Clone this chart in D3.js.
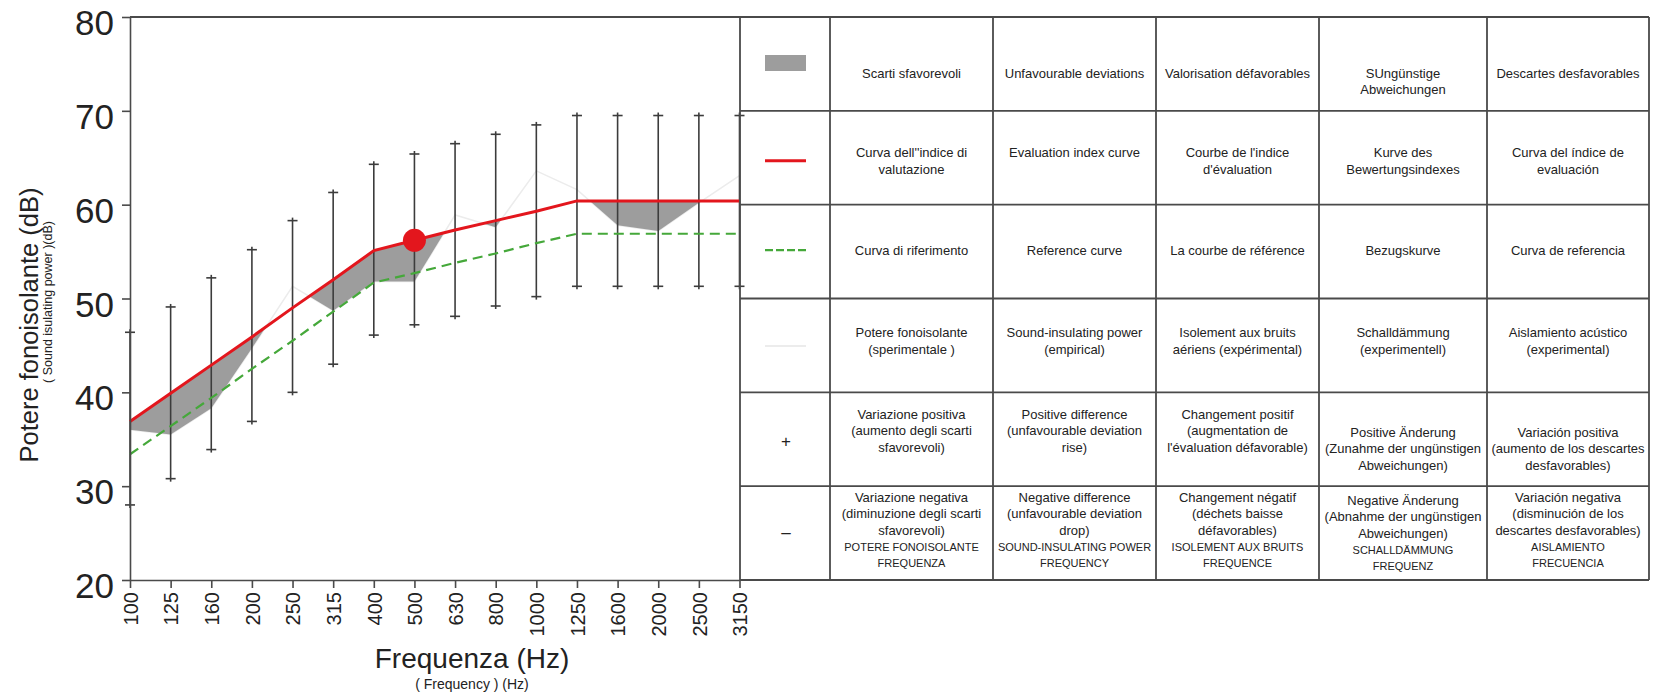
<!DOCTYPE html>
<html>
<head>
<meta charset="utf-8">
<script src="https://cdn.jsdelivr.net/npm/d3@7/dist/d3.min.js"></script>
<style>
  html, body { margin: 0; padding: 0; background: #fff; }
  svg { display: block; font-family: "Liberation Sans", Arial, sans-serif; }
</style>
</head>
<body>
<svg id="chart" width="1658" height="695"></svg>
<script>
// One-third-octave band centre frequencies (Hz)
const frequencies = ["100","125","160","200","250","315","400","500","630","800","1000","1250","1600","2000","2500","3150"];

// Evaluation index curve (shifted reference curve), dB
const evaluationCurve = [36.9,39.9,42.9,45.9,49.0,52.0,55.1,56.2,57.3,58.3,59.3,60.4,60.4,60.4,60.4,60.4];

// Reference curve, dB
const referenceCurve = [33.4,36.4,39.4,42.5,45.5,48.6,51.7,52.7,53.8,54.8,55.9,56.9,56.9,56.9,56.9,56.9];

// Measured sound-insulating power, dB
const measuredPower = [36.0,35.5,38.3,44.7,51.3,48.7,51.8,51.8,58.9,57.6,63.6,61.6,57.8,57.2,60.2,63.1];

// Range bars: positive / negative variation limits, dB
const variationLow  = [28.0,30.8,33.9,36.9,40.0,43.0,46.1,47.2,48.1,49.2,50.2,51.3,51.3,51.3,51.3,51.3];
const variationHigh = [46.4,49.1,52.2,55.2,58.3,61.3,64.3,65.4,66.5,67.5,68.5,69.5,69.5,69.5,69.5,69.5];

// Index value marked on the evaluation curve
const indexFrequency = "500";

// Y axis tick values, dB
const yTickValues = [20,30,40,50,60,70,80];

// Legend table: Italian, English, French, German, Spanish
const legendKeys = ["deviation","evaluation","reference","measured","plus","minus"];
const legendIT = [
  ["Scarti sfavorevoli"],
  ["Curva dell''indice di","valutazione"],
  ["Curva di riferimento"],
  ["Potere fonoisolante","(sperimentale )"],
  ["Variazione positiva","(aumento degli scarti","sfavorevoli)"],
  ["Variazione negativa","(diminuzione degli scarti","sfavorevoli)","POTERE FONOISOLANTE","FREQUENZA"]
];
const legendEN = [
  ["Unfavourable deviations"],
  ["Evaluation index curve"],
  ["Reference curve"],
  ["Sound-insulating power","(empirical)"],
  ["Positive difference","(unfavourable deviation","rise)"],
  ["Negative difference","(unfavourable deviation","drop)","SOUND-INSULATING POWER","FREQUENCY"]
];
const legendFR = [
  ["Valorisation défavorables"],
  ["Courbe de l'indice","d'évaluation"],
  ["La courbe de référence"],
  ["Isolement aux bruits","aériens (expérimental)"],
  ["Changement positif","(augmentation de","l'évaluation défavorable)"],
  ["Changement négatif","(déchets baisse","défavorables)","ISOLEMENT AUX BRUITS","FREQUENCE"]
];
const legendDE = [
  ["SUngünstige","Abweichungen"],
  ["Kurve des","Bewertungsindexes"],
  ["Bezugskurve"],
  ["Schalldämmung","(experimentell)"],
  ["Positive Änderung","(Zunahme der ungünstigen","Abweichungen)"],
  ["Negative Änderung","(Abnahme der ungünstigen","Abweichungen)","SCHALLDÄMMUNG","FREQUENZ"]
];
const legendES = [
  ["Descartes desfavorables"],
  ["Curva del índice de","evaluación"],
  ["Curva de referencia"],
  ["Aislamiento acústico","(experimental)"],
  ["Variación positiva","(aumento de los descartes","desfavorables)"],
  ["Variación negativa","(disminución de los","descartes desfavorables)","AISLAMIENTO","FRECUENCIA"]
];
const legendColumns = [legendIT, legendEN, legendFR, legendDE, legendES];

// ---- colours & layout -------------------------------------------------
const RED = "#e3161d", GREEN = "#45a83a", FILL = "#9d9d9d", INK = "#222", RULE = "#4a4a4a";
const plotLeft = 130, plotRight = 739.5, plotTop = 17, plotBottom = 580;
const tableCols = [740, 830, 993, 1156, 1319, 1487, 1649];
const firstLineOffset = [56, 42, 45.7, 34, 22, 11];   // per table row, px below row top
const lineStep = 16.6;

const svg = d3.select("#chart");

const x = d3.scalePoint().domain(frequencies).range([plotLeft, plotRight]);
const y = d3.scaleLinear().domain([20, 80]).range([plotBottom, plotTop]);

const rows = frequencies.map((f, i) => ({
  f, evalV: evaluationCurve[i], refV: referenceCurve[i], meas: measuredPower[i],
  lo: variationLow[i], hi: variationHigh[i]
}));

// ---- unfavourable deviations: area between measured and evaluation, kept below the evaluation curve
const defs = svg.append("defs");
defs.append("clipPath").attr("id", "belowEval")
  .append("path")
  .attr("d", d3.area().x(d => x(d.f)).y0(y(20)).y1(d => y(d.evalV))(rows));

// measured curve (very light line)
svg.append("path")
  .attr("d", d3.line().x(d => x(d.f)).y(d => y(d.meas))(rows))
  .attr("fill", "none").attr("stroke", "#ececec").attr("stroke-width", 1.5);

svg.append("path")
  .attr("clip-path", "url(#belowEval)")
  .attr("d", d3.area().x(d => x(d.f)).y0(d => y(d.evalV)).y1(d => y(d.meas))(rows))
  .attr("fill", FILL);

// ---- range bars
const bars = svg.append("g").attr("stroke", "#3c3c3c").attr("stroke-width", 1.6);
bars.selectAll("line.v").data(rows).join("line")
  .attr("x1", d => x(d.f)).attr("x2", d => x(d.f))
  .attr("y1", d => y(d.lo) + 3).attr("y2", d => y(d.hi) - 3);
bars.selectAll("line.c").data(rows.flatMap(d => [{f: d.f, v: d.lo}, {f: d.f, v: d.hi}])).join("line")
  .attr("x1", d => x(d.f) - 5).attr("x2", d => x(d.f) + 5)
  .attr("y1", d => y(d.v)).attr("y2", d => y(d.v));

// ---- reference and evaluation curves
svg.append("path")
  .attr("d", d3.line().x(d => x(d.f)).y(d => y(d.refV))(rows))
  .attr("fill", "none").attr("stroke", GREEN).attr("stroke-width", 2.2)
  .attr("stroke-dasharray", "10,6");

svg.append("path")
  .attr("d", d3.line().x(d => x(d.f)).y(d => y(d.evalV))(rows))
  .attr("fill", "none").attr("stroke", RED).attr("stroke-width", 3);

const idx = rows.find(d => d.f === indexFrequency);
svg.append("circle").attr("cx", x(idx.f)).attr("cy", y(idx.evalV)).attr("r", 11.5).attr("fill", RED);

// ---- axes
const yAxis = svg.append("g").attr("transform", `translate(${plotLeft},0)`)
  .call(d3.axisLeft(y).tickValues(yTickValues).tickSize(8).tickPadding(8).tickSizeOuter(0));
yAxis.select(".domain").attr("stroke", RULE).attr("stroke-width", 1.6);
yAxis.selectAll(".tick line").attr("stroke", RULE).attr("stroke-width", 1.6);
yAxis.selectAll(".tick text")
  .attr("fill", INK).attr("font-size", 35).attr("font-family", "Liberation Sans, Arial, sans-serif")
  .attr("dy", "0.5em");

const xAxis = svg.append("g").attr("transform", `translate(0,${plotBottom})`)
  .call(d3.axisBottom(x).tickSize(8).tickSizeOuter(0));
xAxis.select(".domain").attr("stroke", RULE).attr("stroke-width", 1.6);
xAxis.selectAll(".tick line").attr("stroke", RULE).attr("stroke-width", 1.6);
xAxis.selectAll(".tick text")
  .attr("fill", INK).attr("font-size", 20).attr("font-family", "Liberation Sans, Arial, sans-serif")
  .attr("text-anchor", "end").attr("transform", "rotate(-90)")
  .attr("x", -12).attr("y", 0).attr("dy", "0.36em");

// top rule shared by plot and table
svg.append("line").attr("x1", plotLeft).attr("x2", tableCols[6]).attr("y1", plotTop).attr("y2", plotTop)
  .attr("stroke", RULE).attr("stroke-width", 1.8);

// axis titles
svg.append("text").attr("x", 472).attr("y", 668).attr("text-anchor", "middle")
  .attr("font-size", 28).attr("fill", INK).text("Frequenza (Hz)");
svg.append("text").attr("x", 472).attr("y", 689).attr("text-anchor", "middle")
  .attr("font-size", 14).attr("fill", INK).text("( Frequency ) (Hz)");
svg.append("text").attr("transform", "translate(38,325) rotate(-90)").attr("text-anchor", "middle")
  .attr("font-size", 25.5).attr("fill", INK).text("Potere fonoisolante (dB)");
svg.append("text").attr("transform", "translate(52,302) rotate(-90)").attr("text-anchor", "middle")
  .attr("font-size", 12.5).attr("fill", INK).text("( Sound isulating power )(dB)");

// ---- legend table
const table = svg.append("g");
const rowEdges = yTickValues.slice().reverse().map(v => y(v));   // rows share the dB grid
table.selectAll("line.h").data(rowEdges).join("line")
  .attr("x1", tableCols[0]).attr("x2", tableCols[6]).attr("y1", d => d).attr("y2", d => d)
  .attr("stroke", RULE).attr("stroke-width", 1.8);
table.selectAll("line.vc").data(tableCols).join("line")
  .attr("x1", d => d).attr("x2", d => d).attr("y1", plotTop).attr("y2", plotBottom)
  .attr("stroke", RULE).attr("stroke-width", 1.8);

const keyX = (tableCols[0] + tableCols[1]) / 2;
legendKeys.forEach((k, r) => {
  const top = rowEdges[r];
  if (k === "deviation") {
    table.append("rect").attr("x", keyX - 20).attr("y", top + 38).attr("width", 41).attr("height", 16).attr("fill", FILL);
  } else if (k === "evaluation") {
    table.append("line").attr("x1", keyX - 20).attr("x2", keyX + 21).attr("y1", top + 50).attr("y2", top + 50)
      .attr("stroke", RED).attr("stroke-width", 3);
  } else if (k === "reference") {
    table.append("line").attr("x1", keyX - 20).attr("x2", keyX + 21).attr("y1", top + 45.5).attr("y2", top + 45.5)
      .attr("stroke", GREEN).attr("stroke-width", 2.2).attr("stroke-dasharray", "8,3");
  } else if (k === "measured") {
    table.append("line").attr("x1", keyX - 20).attr("x2", keyX + 21).attr("y1", top + 47.5).attr("y2", top + 47.5)
      .attr("stroke", "#e6e6e6").attr("stroke-width", 1.5);
  } else {
    table.append("text").attr("x", keyX + 1).attr("y", top + (k === "plus" ? 49 : 46)).attr("dy", "0.35em")
      .attr("text-anchor", "middle").attr("font-size", 17).attr("fill", INK)
      .text(k === "plus" ? "+" : "–");
  }
});

legendColumns.forEach((col, c) => {
  const cx = (tableCols[c + 1] + tableCols[c + 2]) / 2;
  col.forEach((lines, r) => {
    let start = rowEdges[r] + firstLineOffset[r];
    if (r === 4 && c >= 3) start += 18;
    if (r === 5 && c === 3) start += 3;
    const t = table.append("text").attr("text-anchor", "middle").attr("fill", INK);
    lines.forEach((ln, i) => {
      const caps = ln.length > 3 && ln === ln.toUpperCase();
      t.append("tspan").attr("x", cx).attr("y", start + i * lineStep).attr("dy", "0.35em")
        .attr("font-size", caps ? 11 : 13).text(ln);
    });
  });
});
</script>
</body>
</html>
